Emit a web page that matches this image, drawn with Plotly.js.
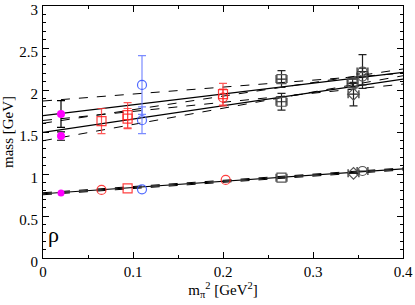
<!DOCTYPE html>
<html><head><meta charset="utf-8">
<script src="https://cdn.plot.ly/plotly-3.0.1.min.js"></script>
<style>body{margin:0;background:#fff}#c{width:415px;height:305px}</style>
</head><body><div id="c"></div>
<script>
// ---- data ----
// upper states
const magX = [0.02, 0.02];
const magY = [1.714, 1.452];
const magErrP = [0.16, 0.05];
const magErrM = [0.16, 0.05];
const redX = [0.065, 0.094, 0.094, 0.2, 0.2];
const redY = [1.63, 1.70, 1.66, 1.95, 1.91];
const redErr = [0.15, 0.15, 0.12, 0.13, 0.10];
const redSym = ['square-open','square-open','square-open','square-open','circle-open'];
const blueX = [0.11, 0.11];
const blueY = [2.06, 1.64];
const blueErr = [0.35, 0.16];
const blkX = [0.265, 0.265, 0.344, 0.345, 0.355, 0.355];
const blkY = [2.13, 1.86, 2.08, 1.95, 2.22, 2.16];
const blkErr = [0.10, 0.10, 0.05, 0.14, 0.20, 0.10];
const blkXErr = [0.006, 0.006, 0.006, 0.006, 0.006, 0.006];
const blkSym = ['square-open','square-open','square-open','diamond-open','circle-open','circle-open'];
// rho (ground state)
const rhoMagX = [0.02], rhoMagY = [0.774];
const rhoRedX = [0.065, 0.094, 0.203], rhoRedY = [0.81, 0.83, 0.93];
const rhoRedSym = ['circle-open','square-open','circle-open'];
const rhoBlueX = [0.11], rhoBlueY = [0.818];
const rhoBlkX = [0.265, 0.345, 0.355], rhoBlkY = [0.956, 1.008, 1.036];
const rhoBlkSym = ['square-open','diamond-open','circle-open'];
// fit lines: values at x=0 and x=0.4
const lineX = [0, 0.4];
const fitA = [1.694, 2.21], fitAhi = [1.869, 2.20], fitAlo = [1.604, 2.25];
const fitB = [1.496, 2.13], fitBhi = [1.637, 2.07], fitBlo = [1.396, 2.17];
const fitR = [0.765, 1.06], fitRhi = [0.777, 1.072], fitRlo = [0.753, 1.048];

function line(y, dash){
  return {x: lineX, y: y, mode:'lines', line:{color:'#000', width: dash?1:1.2, dash: dash?'dash':'solid'}, hoverinfo:'skip', showlegend:false};
}
function pts(x, y, sym, color, err, xerr, errColor){
  const t = {x:x, y:y, mode:'markers', showlegend:false,
    marker:{symbol:sym, size:9, color:color, line:{width:1.2}}};
  if (err) t.error_y = {type:'data', array:err, color:errColor, thickness:1.2, width:4};
  if (xerr) t.error_x = {type:'data', array:xerr, color:errColor, thickness:1.2, width:4};
  return t;
}
const RED = 'rgba(255,30,30,0.85)', BLUE = 'rgba(50,80,255,0.85)', GREY = '#555';
const traces = [
  line(fitAhi,true), line(fitAlo,true), line(fitA,false),
  line(fitBhi,true), line(fitBlo,true), line(fitB,false),
  line(fitRhi,true), line(fitRlo,true), line(fitR,false),
  {x:magX, y:magY, mode:'markers', showlegend:false, marker:{symbol:'circle', size:8, color:'#ff00ff'},
   error_y:{type:'data', array:magErrP, arrayminus:magErrM, color:'#000', thickness:1.2, width:4}},
  pts(redX, redY, redSym, RED, redErr, null, 'rgba(255,60,60,0.85)'),
  pts(blueX, blueY, 'circle-open', BLUE, blueErr, null, 'rgba(100,120,255,0.85)'),
  pts(blkX, blkY, blkSym, GREY, blkErr, blkXErr, '#222'),
  {x:rhoMagX, y:rhoMagY, mode:'markers', showlegend:false, marker:{symbol:'circle', size:7, color:'#ff00ff'}},
  pts(rhoRedX, rhoRedY, rhoRedSym, RED, null, null, null),
  pts(rhoBlueX, rhoBlueY, 'circle-open', BLUE, null, null, null),
  pts(rhoBlkX, rhoBlkY, rhoBlkSym, GREY, null, [0.006,0.006,0.006], '#222')
];
const ax = {showgrid:false, zeroline:false, showline:true, linecolor:'#000', linewidth:1,
  mirror:'ticks', ticks:'inside', ticklen:6, tickcolor:'#000', tickfont:{size:15, color:'#000'},
  ticklabeloverflow:'allow'};
const layout = {
  width:415, height:305, margin:{l:43, r:12, t:6, b:47},
  paper_bgcolor:'#fff', plot_bgcolor:'#fff',
  font:{family:'"Liberation Serif", "DejaVu Serif", serif', color:'#000', size:15},
  xaxis:Object.assign({}, ax, {range:[0,0.4], dtick:0.1, tick0:0,
    minor:{dtick:0.05, ticks:'inside', ticklen:3, tickcolor:'#000'},
    title:{text:'m<sub>π</sub><sup>2</sup> [GeV<sup>2</sup>]', font:{size:15}, standoff:4}}),
  yaxis:Object.assign({}, ax, {range:[0,3], dtick:0.5, tick0:0, ticklabelshift:4, ticklabelstandoff:1,
    minor:{dtick:0.1, ticks:'inside', ticklen:3, tickcolor:'#000'},
    title:{text:'mass [GeV]', font:{size:15}, standoff:6}}),
  annotations:[{text:'ρ', x:0.012, y:0.28, xref:'x', yref:'y', showarrow:false, font:{size:22, color:'#000'}, xanchor:'center'}]
};
Plotly.newPlot('c', traces, layout, {displayModeBar:false, staticPlot:true});
</script></body></html>
